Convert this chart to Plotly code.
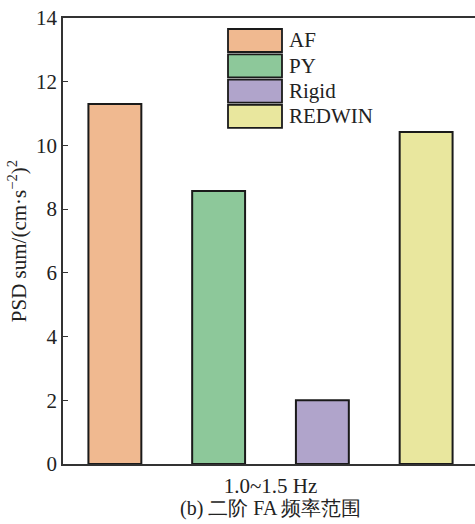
import plotly.graph_objects as go

category = "1.0~1.5 Hz"
series_names = ["AF", "PY", "Rigid", "REDWIN"]
series_values = [11.30, 8.57, 2.0, 10.42]
series_colors = ["#F0B990", "#8DC89A", "#B0A4CB", "#E9E79E"]
y_ticks = [0, 2, 4, 6, 8, 10, 12, 14]
y_title = "PSD sum/(cm·s<sup>−2</sup>)<sup>2</sup>"
caption = "(b) 二阶 FA 频率范围"

W, H = 475, 524
ML, MR, MT, MB = 63, 0, 18, 60
FONT = "Liberation Serif"

fig = go.Figure()
for name, val, col in zip(series_names, series_values, series_colors):
    fig.add_trace(go.Bar(
        x=[category], y=[val], name=name,
        marker=dict(color=col, line=dict(color="#1a1a1a", width=2)),
        showlegend=False,
    ))

# manual legend (wide rectangular swatches)
pw, ph = W - ML - MR, H - MT - MB
def px2x(px):
    return (px - ML) / pw
def py2y(py):
    return (H - MB - py) / ph

shapes = []
annotations = []
for i, (name, col) in enumerate(zip(series_names, series_colors)):
    top = 29 + 25.3 * i
    bot = top + 23
    shapes.append(dict(type="rect", xref="paper", yref="paper",
                       x0=px2x(228), x1=px2x(282), y0=py2y(bot), y1=py2y(top),
                       fillcolor=col, line=dict(color="#1a1a1a", width=1.8)))
    annotations.append(dict(text=name, xref="paper", yref="paper",
                            x=px2x(287), y=py2y((top + bot) / 2),
                            xanchor="left", yanchor="middle", showarrow=False,
                            font=dict(family=FONT, size=21, color="#222")))

annotations.append(dict(text=caption, xref="paper", yref="paper",
                        x=px2x(270), y=py2y(508), xanchor="center", yanchor="middle",
                        showarrow=False, font=dict(family=FONT, size=20, color="#222")))

fig.update_layout(
    width=W, height=H,
    margin=dict(l=ML, r=MR, t=MT, b=MB, pad=0),
    paper_bgcolor="white", plot_bgcolor="white",
    barmode="group", bargap=0, bargroupgap=0.49,
    shapes=shapes, annotations=annotations,
    font=dict(family=FONT, size=21, color="#222"),
    xaxis=dict(range=[-0.5, -0.5 + pw / 415], showline=True, linecolor="#333",
               linewidth=1.5, mirror=True, ticks="", showgrid=False,
               tickfont=dict(family=FONT, size=21, color="#222"), ticklabelstandoff=2),
    yaxis=dict(range=[0, 14], tickvals=y_ticks, showline=True, linecolor="#333",
               linewidth=1.5, ticks="inside", ticklen=5, tickcolor="#333",
               showgrid=False, zeroline=False,
               tickfont=dict(family=FONT, size=21, color="#222"),
               title=dict(text=y_title, font=dict(family=FONT, size=21, color="#222"),
                          standoff=4)),
)

fig.write_html("out.html")
